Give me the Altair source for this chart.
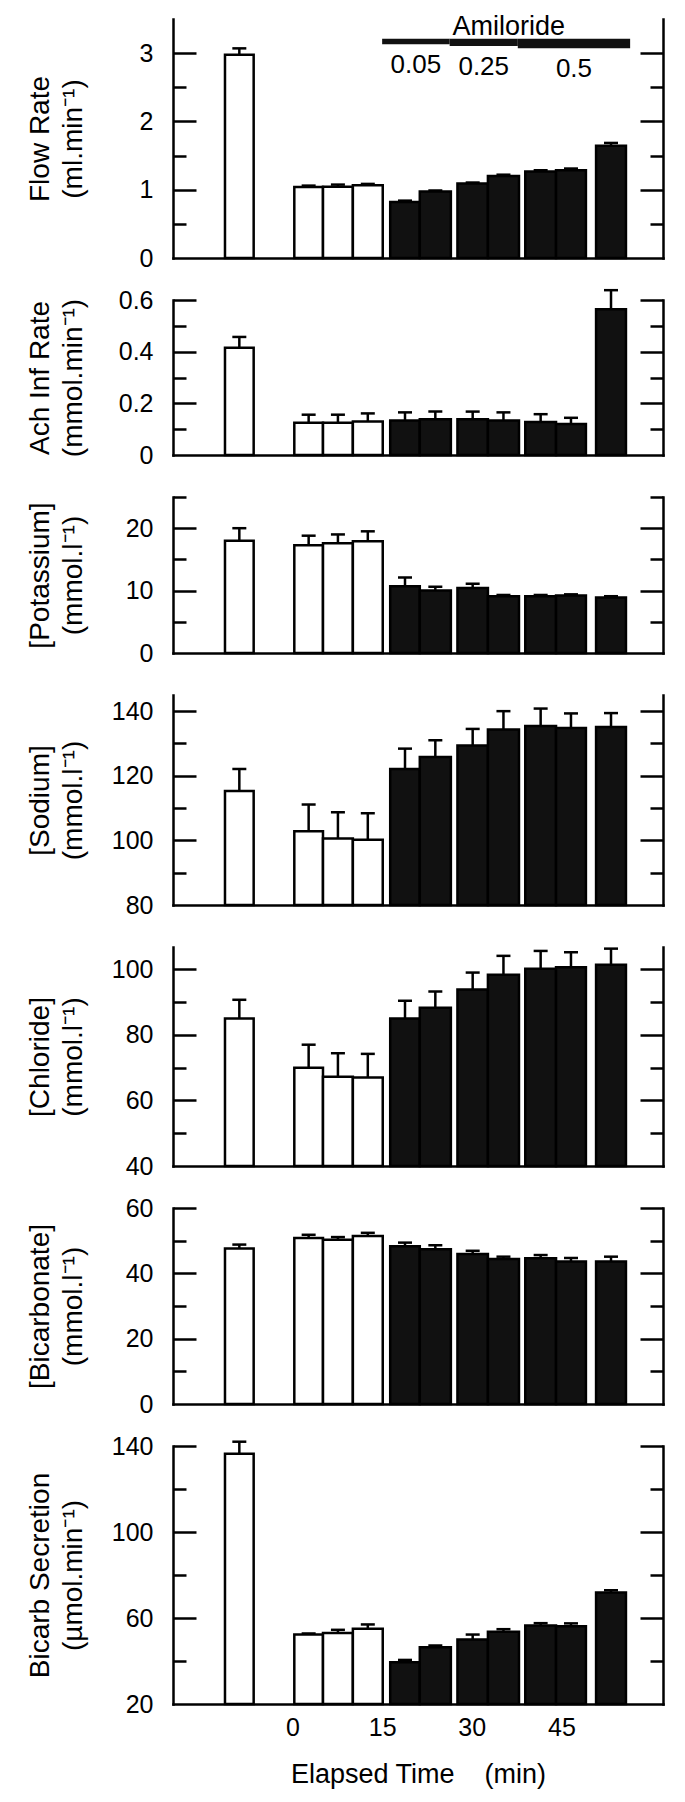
import altair as alt
import pandas as pd

# ---------------- data ----------------
# bar extents along the elapsed-time axis (min)
t_start = [-11.3, 0.3, 5.1, 10.1, 16.35, 21.3, 27.6, 32.7, 38.95, 44.1, 50.8]
t_end = [-6.5, 5.1, 10.1, 15.1, 21.3, 26.5, 32.7, 37.9, 44.1, 49.1, 55.8]
group = ["Control"] * 4 + ["Amiloride"] * 7

flow_mean = [2.975, 1.04, 1.045, 1.065, 0.82, 0.975, 1.09, 1.20, 1.265, 1.285, 1.645]
flow_sem = [0.095, 0.02, 0.03, 0.02, 0.02, 0.015, 0.015, 0.02, 0.02, 0.025, 0.04]

ach_mean = [0.415, 0.125, 0.125, 0.13, 0.134, 0.138, 0.138, 0.134, 0.128, 0.12, 0.564]
ach_sem = [0.042, 0.031, 0.031, 0.031, 0.031, 0.030, 0.030, 0.031, 0.030, 0.024, 0.074]

k_mean = [18.0, 17.25, 17.6, 17.9, 10.7, 10.0, 10.4, 9.1, 9.1, 9.2, 8.9]
k_sem = [2.0, 1.55, 1.4, 1.6, 1.4, 0.6, 0.7, 0.2, 0.2, 0.2, 0.2]

na_mean = [115.3, 102.8, 100.6, 100.2, 122.1, 125.8, 129.4, 134.3, 135.4, 134.8, 135.1]
na_sem = [6.8, 8.3, 8.1, 8.2, 6.3, 5.2, 5.1, 5.7, 5.4, 4.5, 4.3]

cl_mean = [85.0, 70.0, 67.2, 67.0, 85.0, 88.3, 93.8, 98.3, 100.2, 100.6, 101.4]
cl_sem = [5.7, 7.0, 7.2, 7.2, 5.4, 4.9, 5.2, 5.8, 5.4, 4.6, 4.9]

hco3_mean = [47.6, 50.8, 50.3, 51.4, 48.3, 47.4, 45.9, 44.4, 44.6, 43.6, 43.6]
hco3_sem = [1.2, 1.0, 0.8, 1.0, 1.1, 1.2, 1.0, 0.7, 1.0, 1.1, 1.5]

sec_mean = [136.4, 52.3, 53.0, 55.0, 39.4, 46.4, 50.0, 53.6, 56.5, 56.2, 71.9]
sec_sem = [5.6, 0.5, 1.5, 2.0, 1.1, 0.8, 2.3, 1.2, 1.1, 1.3, 1.0]

# amiloride dosing bar
amil_start = [15.0, 26.3, 37.7]
amil_end = [26.3, 37.7, 56.5]
amil_conc = [0.05, 0.25, 0.5]
amil_label = ["0.05", "0.25", "0.5"]

x_ticks = [0, 15, 30, 45]

# ---------------- styling ----------------
FONT = "Liberation Sans, Arial, Helvetica, sans-serif"
W = 490
LW = 2.5
X_DOMAIN = [-20, 62]

panels = [
    dict(mean=flow_mean, sem=flow_sem, title=["Flow Rate", "(ml.min\u207b\u00b9)"],
         dom=[0, 3.5], h=239, labels=[0, 1, 2, 3], major=[1, 2, 3], minor=[0.5, 1.5, 2.5]),
    dict(mean=ach_mean, sem=ach_sem, title=["Ach Inf Rate", "(mmol.min\u207b\u00b9)"],
         dom=[0, 0.6], h=155, labels=[0, 0.2, 0.4, 0.6], major=[0.2, 0.4, 0.6], minor=[0.1, 0.3, 0.5]),
    dict(mean=k_mean, sem=k_sem, title=["[Potassium]", "(mmol.l\u207b\u00b9)"],
         dom=[0, 25], h=156, labels=[0, 10, 20], major=[10, 20], minor=[5, 15, 25]),
    dict(mean=na_mean, sem=na_sem, title=["[Sodium]", "(mmol.l\u207b\u00b9)"],
         dom=[80, 145], h=210, labels=[80, 100, 120, 140], major=[100, 120, 140], minor=[90, 110, 130]),
    dict(mean=cl_mean, sem=cl_sem, title=["[Chloride]", "(mmol.l\u207b\u00b9)"],
         dom=[40, 106.8], h=219, labels=[40, 60, 80, 100], major=[60, 80, 100], minor=[50, 70, 90]),
    dict(mean=hco3_mean, sem=hco3_sem, title=["[Bicarbonate]", "(mmol.l\u207b\u00b9)"],
         dom=[0, 60], h=196, labels=[0, 20, 40, 60], major=[20, 40, 60], minor=[10, 30, 50]),
    dict(mean=sec_mean, sem=sec_sem, title=["Bicarb Secretion", "(\u00b5mol.min\u207b\u00b9)"],
         dom=[20, 140], h=258, labels=[20, 60, 100, 140], major=[60, 100, 140], minor=[40, 80, 120]),
]


def tick_axis(orient, show_domain, major, minor):
    test = " || ".join(f"datum.value === {v}" for v in major)
    return alt.Axis(
        orient=orient, offset=-W, values=sorted(major + minor), labels=False,
        domain=show_domain, domainColor="black", domainWidth=LW, domainCap="square",
        ticks=True, tickColor="black", tickWidth=LW,
        tickSize={"condition": {"test": test, "value": 23}, "value": 13},
        grid=False, title=None,
    )


def make_panel(p, last=False, amiloride=False):
    df = pd.DataFrame({"t0": t_start, "t1": t_end, "grp": group,
                       "mean": p["mean"], "sem": p["sem"]})
    base = alt.Chart(df).transform_calculate(
        tc="(datum.t0 + datum.t1) / 2", top="datum.mean + datum.sem")
    xs = alt.Scale(domain=X_DOMAIN, nice=False, zero=False)
    ys = alt.Scale(domain=p["dom"], nice=False, zero=False)

    xkw = dict(orient="bottom", values=x_ticks, labels=last, ticks=False, domain=True,
               domainColor="black", domainWidth=LW, domainCap="square", grid=False,
               labelFont=FONT, labelFontSize=25, labelColor="black", labelPadding=11,
               labelFlush=False)
    if last:
        xkw.update(title="Elapsed Time\u00a0\u00a0\u00a0\u00a0(min)", titleFont=FONT,
                   titleFontSize=27, titleFontWeight="normal", titleColor="black",
                   titleBaseline="alphabetic", titleY=78)
    else:
        xkw.update(title=None)

    yaxis = alt.Axis(
        orient="left", values=p["labels"], format="~r", ticks=False, tickSize=0,
        domain=True, domainColor="black", domainWidth=LW, domainCap="square", grid=False,
        labelFont=FONT, labelFontSize=25, labelColor="black", labelPadding=20,
        labelFlush=False,
        title=p["title"], titleFont=FONT, titleFontSize=28, titleFontWeight="normal",
        titleColor="black", titleLineHeight=33, titleAngle=270, titleAlign="center",
        titleBaseline="middle", titleX=-133, titleY=p["h"] / 2,
    )

    bars = base.transform_calculate(base_y=str(p["dom"][0])).mark_bar(
        stroke="black", strokeWidth=LW).encode(
        x=alt.X("t0:Q", scale=xs, axis=alt.Axis(**xkw)),
        x2="t1:Q",
        y=alt.Y("mean:Q", scale=ys, axis=yaxis),
        y2="base_y:Q",
        fill=alt.Fill("grp:N", scale=alt.Scale(domain=["Control", "Amiloride"],
                                               range=["#ffffff", "#111111"]), legend=None),
    )
    rules = base.mark_rule(color="black", strokeWidth=LW).encode(
        x=alt.X("tc:Q", scale=xs, axis=alt.Axis(**xkw)),
        y=alt.Y("mean:Q", scale=ys, axis=tick_axis("right", False, p["major"], p["minor"])),
        y2="top:Q",
    )
    caps = base.mark_tick(color="black", thickness=LW, size=14, orient="horizontal",
                          opacity=1).encode(
        x=alt.X("tc:Q", scale=xs, axis=alt.Axis(**xkw)),
        y=alt.Y("top:Q", scale=ys, axis=tick_axis("left", True, p["major"], p["minor"])),
    )
    layers = [bars, rules, caps]

    if amiloride:
        adf = pd.DataFrame({"s": amil_start, "e": amil_end, "conc": amil_conc,
                            "lab": amil_label})
        abase = alt.Chart(adf).transform_calculate(
            mid="(datum.s + datum.e) / 2", ytop="3.21",
            ybot="3.137 - 0.133 * datum.conc")
        arect = abase.mark_rect(color="#111111").encode(
            x=alt.X("s:Q", scale=xs, axis=alt.Axis(**xkw)), x2="e:Q",
            y=alt.Y("ytop:Q", scale=ys, axis=None), y2="ybot:Q")
        alab = abase.mark_text(font=FONT, fontSize=26, color="black", baseline="top",
                               align="center", dy=8).encode(
            x=alt.X("mid:Q", scale=xs, axis=alt.Axis(**xkw)),
            y=alt.Y("ybot:Q", scale=ys, axis=None),
            text="lab:N")
        atitle = alt.Chart(pd.DataFrame({"txt": ["Amiloride"]})).transform_calculate(
            tx="36.2", ty="3.265").mark_text(
            font=FONT, fontSize=27, color="black", baseline="alphabetic",
            align="center").encode(
            x=alt.X("tx:Q", scale=xs, axis=alt.Axis(**xkw)),
            y=alt.Y("ty:Q", scale=ys, axis=None),
            text="txt:N")
        layers += [arect, alab, atitle]

    return alt.layer(*layers).resolve_axis(y="independent").properties(width=W, height=p["h"])


charts = [make_panel(p, last=(i == len(panels) - 1), amiloride=(i == 0))
          for i, p in enumerate(panels)]

chart = alt.vconcat(*charts, spacing=42, bounds="flush").properties(
    padding={"left": 17, "top": 5, "right": 5, "bottom": 5},
    background="white",
).configure_view(stroke=None)

chart.save("out.html", embed_options={"renderer": "svg", "actions": False})
